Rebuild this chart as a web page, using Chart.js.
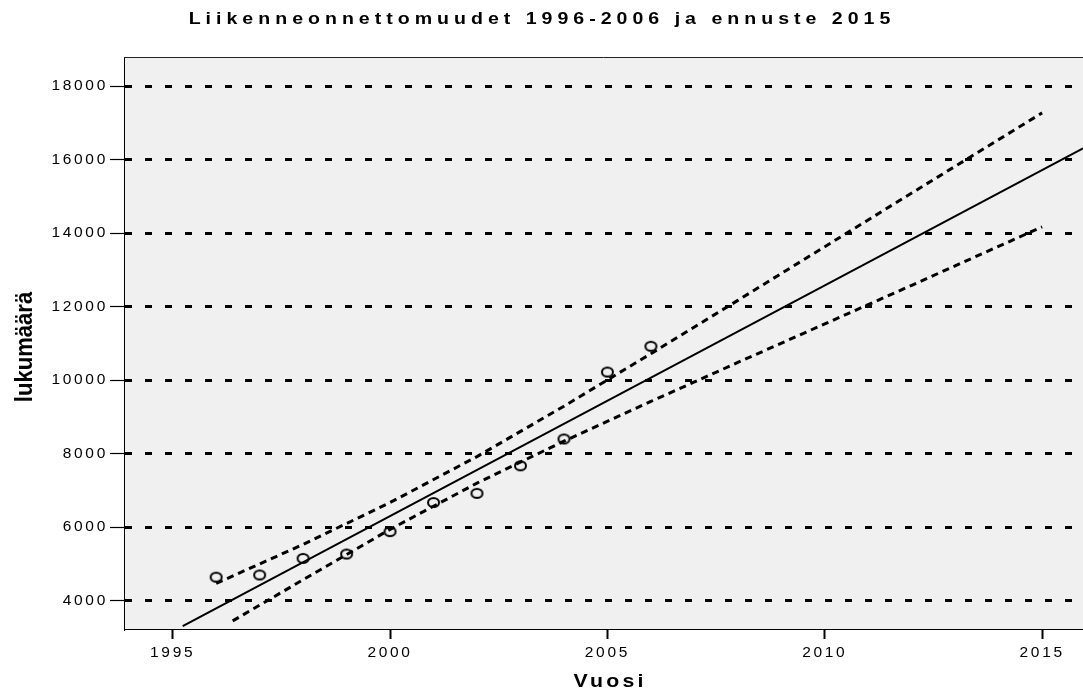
<!DOCTYPE html>
<html>
<head>
<meta charset="utf-8">
<title>Liikenneonnettomuudet 1996-2006 ja ennuste 2015</title>
<script src="https://cdn.jsdelivr.net/npm/chart.js@4/dist/chart.umd.min.js"></script>
<style>
  html, body { margin: 0; padding: 0; background: #fff; overflow: hidden; }
  #wrap { width: 1083px; height: 691px; }
</style>
</head>
<body>
<div id="wrap"><canvas id="chart" width="1083" height="691"></canvas></div>
<script>
// ── Data ──
const years = [1996, 1997, 1998, 1999, 2000, 2001, 2002, 2003, 2004, 2005, 2006];
const accidents = [4640, 4700, 5150, 5270, 5880, 6670, 6920, 7670, 8400, 10220, 10920];

// regression line, visible ends
const fitYears = [1995.23, 2015.94];
const fitValues = [3310, 16305];

// confidence band (dashed)
const upperYears = [1996, 1998, 2000, 2002, 2004, 2006, 2008, 2010, 2012, 2015];
const upperValues = [4470, 5530, 6670, 7920, 9290, 10720, 12170, 13630, 15090, 17270];
const lowerYears = [1996.38, 1998, 2000, 2002, 2004, 2006, 2008, 2010, 2012, 2015];
const lowerValues = [3450, 4570, 5940, 7200, 8340, 9420, 10480, 11530, 12580, 14170];

const xTicks = [1995, 2000, 2005, 2010, 2015];
const yTicks = [4000, 6000, 8000, 10000, 12000, 14000, 16000, 18000];
const xRange = [1993.88, 2015.94];
const yRange = [3230, 18790];

const titleText = 'Liikenneonnettomuudet 1996-2006 ja ennuste 2015';
const xTitleText = 'Vuosi';
const yTitleText = 'lukumäärä';

const FONT = "'Liberation Sans', Arial, sans-serif";

const pairs = (xs, ys) => xs.map((x, i) => ({ x: x, y: ys[i] }));

// ── Open marker: slightly wide ellipse ──
const marker = document.createElement('canvas');
marker.width = 15;
marker.height = 13;
(function () {
    const m = marker.getContext('2d');
    m.strokeStyle = '#000';
    m.lineWidth = 2;
    m.beginPath();
    m.ellipse(7.5, 6.5, 5.5, 4.6, 0, 0, Math.PI * 2);
    m.stroke();
})();

// draws centred text, stretched along its own direction and spaced out
function stretchedText(ctx, text, cx, cy, font, stretch, spacing, angle) {
    ctx.save();
    ctx.translate(cx, cy);
    ctx.rotate(angle || 0);
    ctx.scale(stretch, 1);
    ctx.font = font;
    ctx.letterSpacing = spacing + 'px';
    ctx.textAlign = 'center';
    ctx.textBaseline = 'alphabetic';
    ctx.fillStyle = '#000';
    ctx.fillText(text, spacing / 2, 0);
    ctx.restore();
}

// ── Plot background, frame, titles ──
const backdrop = {
    id: 'backdrop',
    beforeDraw(chart) {
        const { ctx, chartArea: a } = chart;
        ctx.save();
        ctx.fillStyle = '#f0f0f0';
        ctx.fillRect(a.left, a.top, a.right - a.left, a.bottom - a.top);
        ctx.restore();
        ctx.letterSpacing = '2.7px';   // tick labels are spaced out
    },
    afterDraw(chart) {
        const { ctx, chartArea: a } = chart;
        ctx.save();
        ctx.strokeStyle = '#222';
        ctx.lineWidth = 1;
        ctx.beginPath();
        ctx.moveTo(a.left, a.top + 0.5);
        ctx.lineTo(a.right, a.top + 0.5);
        ctx.stroke();
        ctx.restore();

        stretchedText(ctx, titleText, 539.5, 24, 'bold 17px ' + FONT, 1.15, 4.35, 0);
        stretchedText(ctx, xTitleText, 608.5, 687, 'bold 18.5px ' + FONT, 1.15, 2.8, 0);
        stretchedText(ctx, yTitleText, 31.5, 347, 'bold 24px ' + FONT, 0.92, 0, -Math.PI / 2);
        ctx.letterSpacing = '0px';
    }
};

const tickFont = { family: FONT, size: 15.5 };

new Chart(document.getElementById('chart'), {
    type: 'scatter',
    data: {
        datasets: [
            {
                data: pairs(years, accidents),
                pointStyle: marker,
                pointRadius: 6
            },
            {
                type: 'line',
                data: pairs(fitYears, fitValues),
                borderColor: '#000',
                borderWidth: 2,
                pointRadius: 0,
                fill: false
            },
            {
                type: 'line',
                data: pairs(upperYears, upperValues),
                borderColor: '#000',
                borderWidth: 3,
                borderDash: [7, 5],
                pointRadius: 0,
                fill: false
            },
            {
                type: 'line',
                data: pairs(lowerYears, lowerValues),
                borderColor: '#000',
                borderWidth: 3,
                borderDash: [7, 5],
                pointRadius: 0,
                fill: false
            }
        ]
    },
    options: {
        responsive: false,
        animation: false,
        devicePixelRatio: 1,
        layout: { autoPadding: false, padding: { top: 57, left: 0, right: 0, bottom: 0 } },
        plugins: {
            legend: { display: false },
            tooltip: { enabled: false },
            title: { display: false }
        },
        scales: {
            x: {
                type: 'linear',
                min: xRange[0],
                max: xRange[1],
                afterBuildTicks: s => { s.ticks = xTicks.map(v => ({ value: v })); },
                afterFit: s => { s.height = 62; s.paddingLeft = 0; s.paddingRight = 0; },
                grid: { drawOnChartArea: false, color: '#000', tickLength: 10, tickWidth: 2, tickColor: '#000' },
                border: { display: true, color: '#000', width: 1 },
                ticks: { color: '#000', font: tickFont, padding: 4, maxRotation: 0, autoSkip: false, callback: v => String(v) }
            },
            y: {
                type: 'linear',
                min: yRange[0],
                max: yRange[1],
                afterBuildTicks: s => { s.ticks = yTicks.map(v => ({ value: v })); },
                afterFit: s => { s.width = 124; s.paddingTop = 0; s.paddingBottom = 0; },
                grid: { color: '#000', lineWidth: 3, tickLength: 14, tickWidth: 1.2, tickColor: '#000' },
                border: { display: true, color: '#000', width: 1, dash: [7, 13] },
                ticks: { color: '#000', font: tickFont, padding: 2, autoSkip: false, callback: v => String(v) }
            }
        }
    },
    plugins: [backdrop]
});
</script>
</body>
</html>
